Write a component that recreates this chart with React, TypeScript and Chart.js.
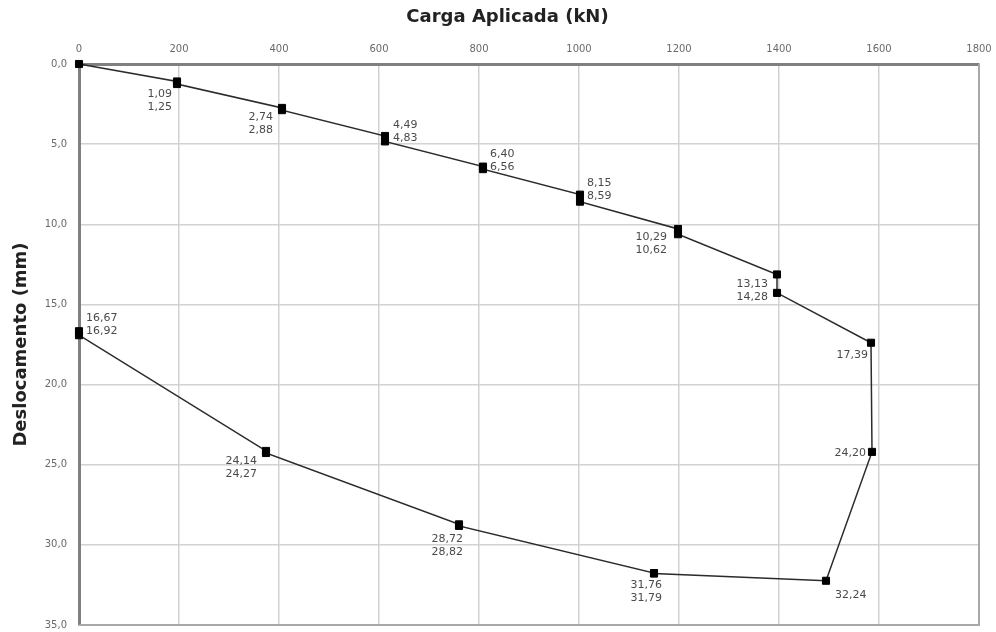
import React, { useEffect, useRef } from "react";
import { Chart, registerables } from "chart.js";

Chart.register(...registerables);

// Applied load (kN) for each reading, in path order
const loads: number[] = [
  0, 196, 196, 406, 406, 612, 612, 808, 808, 1002, 1002, 1198, 1198, 1396, 1396,
  1584, 1586, 1494, 1150, 1150, 760, 760, 374, 374, 0, 0,
];
// Displacement (mm) for each reading, in path order
const displacements: number[] = [
  0, 1.09, 1.25, 2.74, 2.88, 4.49, 4.83, 6.4, 6.56, 8.15, 8.59, 10.29, 10.62, 13.13, 14.28,
  17.39, 24.2, 32.24, 31.79, 31.76, 28.82, 28.72, 24.27, 24.14, 16.92, 16.67,
];
// Which readings share one data label
const labelGroups: number[][] = [
  [1, 2], [3, 4], [5, 6], [7, 8], [9, 10], [11, 12], [13, 14],
  [15], [16], [17], [18, 19], [20, 21], [22, 23], [24, 25],
];
const xTicksMin = 0, xTicksMax = 1800, xStep = 200;
const yTicksMin = 0, yTicksMax = 35, yStep = 5;

// label placement (style): offset from the marker(s) in px, and alignment
const labelPlacement: { dx: number; dy: number; align: CanvasTextAlign }[] = [
  { dx: -5, dy: 11, align: "right" },
  { dx: -9, dy: 8, align: "right" },
  { dx: 8, dy: -14, align: "left" },
  { dx: 7, dy: -14, align: "left" },
  { dx: 7, dy: -15, align: "left" },
  { dx: -11, dy: 6, align: "right" },
  { dx: -9, dy: 0, align: "right" },
  { dx: -3, dy: 12, align: "right" },
  { dx: -6, dy: 1, align: "right" },
  { dx: 9, dy: 14, align: "left" },
  { dx: 8, dy: 12, align: "right" },
  { dx: 4, dy: 14, align: "right" },
  { dx: -9, dy: 9, align: "right" },
  { dx: 7, dy: -15, align: "left" },
];

const fmt = (v: number, d = 2) => v.toFixed(d).replace(".", ",");

const labelsPlugin = {
  id: "groupLabels",
  afterDatasetsDraw(chart: any) {
    const meta = chart.getDatasetMeta(0);
    const ctx = chart.ctx as CanvasRenderingContext2D;
    ctx.save();
    ctx.font = '11px "DejaVu Sans"';
    ctx.fillStyle = "#4a4a4a";
    ctx.textBaseline = "middle";
    labelGroups.forEach((grp, gi) => {
      const pl = labelPlacement[gi];
      const ax = grp.reduce((s, i) => s + meta.data[i].x, 0) / grp.length;
      const ay = grp.reduce((s, i) => s + meta.data[i].y, 0) / grp.length;
      const vals = grp.map((i) => displacements[i]).sort((a, b) => a - b);
      ctx.textAlign = pl.align;
      vals.forEach((v, k) => ctx.fillText(fmt(v), ax + pl.dx, ay + pl.dy + k * 13));
    });
    ctx.restore();
  },
};

const framePlugin = {
  id: "frameRB",
  beforeDatasetsDraw(chart: any) {
    const { ctx, chartArea } = chart;
    ctx.save();
    ctx.strokeStyle = "#a8a8a8";
    ctx.lineWidth = 2;
    ctx.beginPath();
    ctx.moveTo(chartArea.right, chartArea.top);
    ctx.lineTo(chartArea.right, chartArea.bottom);
    ctx.lineTo(chartArea.left, chartArea.bottom);
    ctx.stroke();
    ctx.restore();
  },
};

const zeroPad = (s: any) => {
  s.paddingLeft = 0;
  s.paddingRight = 0;
  s.paddingTop = 0;
  s.paddingBottom = 0;
};

export default function App() {
  const ref = useRef<HTMLCanvasElement | null>(null);
  useEffect(() => {
    if (!ref.current) return;
    const chart = new Chart(ref.current, {
      type: "scatter",
      data: {
        datasets: [
          {
            data: loads.map((x, i) => ({ x, y: displacements[i] })),
            showLine: true,
            clip: false,
            borderColor: "#2b2b2b",
            borderWidth: 1.5,
            tension: 0,
            pointStyle: "rect",
            pointRadius: 5,
            pointBorderWidth: 1,
            pointBackgroundColor: "#000",
            pointBorderColor: "#000",
          },
        ],
      },
      options: {
        animation: false,
        responsive: true,
        maintainAspectRatio: false,
        layout: { padding: { left: 36, right: 17, top: 0, bottom: 7 } },
        plugins: {
          legend: { display: false },
          tooltip: { enabled: false },
          title: {
            display: true,
            text: "Carga Aplicada (kN)",
            color: "#222",
            font: { family: '"DejaVu Sans"', size: 18, weight: "bold" },
            padding: { top: 7, bottom: 0 },
          },
        },
        scales: {
          x: {
            type: "linear",
            position: "top",
            min: xTicksMin,
            max: xTicksMax,
            ticks: {
              stepSize: xStep,
              padding: 9,
              color: "#6a6a6a",
              font: { family: '"DejaVu Sans"', size: 10 },
              callback: (v: any) => String(v),
            },
            grid: { color: "#d2d2d2", lineWidth: 1.5, drawTicks: false },
            border: { display: true, color: "#808080", width: 3 },
            afterFit: (s: any) => {
              s.height = 64 - 28.6;
              zeroPad(s);
            },
          },
          y: {
            type: "linear",
            reverse: true,
            min: yTicksMin,
            max: yTicksMax,
            ticks: {
              stepSize: yStep,
              padding: 12,
              color: "#6a6a6a",
              font: { family: '"DejaVu Sans"', size: 10 },
              callback: (v: any) => fmt(Number(v), 1),
            },
            grid: { color: "#d2d2d2", lineWidth: 1.5, drawTicks: false },
            border: { display: true, color: "#808080", width: 3 },
            title: {
              display: true,
              text: "Deslocamento (mm)",
              color: "#222",
              font: { family: '"DejaVu Sans"', size: 18, weight: "bold" },
              padding: { top: -25, bottom: 0 },
            },
            afterFit: (s: any) => {
              s.width = 43;
              zeroPad(s);
            },
          },
        },
      },
      plugins: [framePlugin, labelsPlugin],
    } as any);
    return () => chart.destroy();
  }, []);
  return (
    <div style={{ position: "fixed", left: 0, top: 0, width: 996, height: 632, background: "#fff" }}>
      <canvas ref={ref} />
    </div>
  );
}
